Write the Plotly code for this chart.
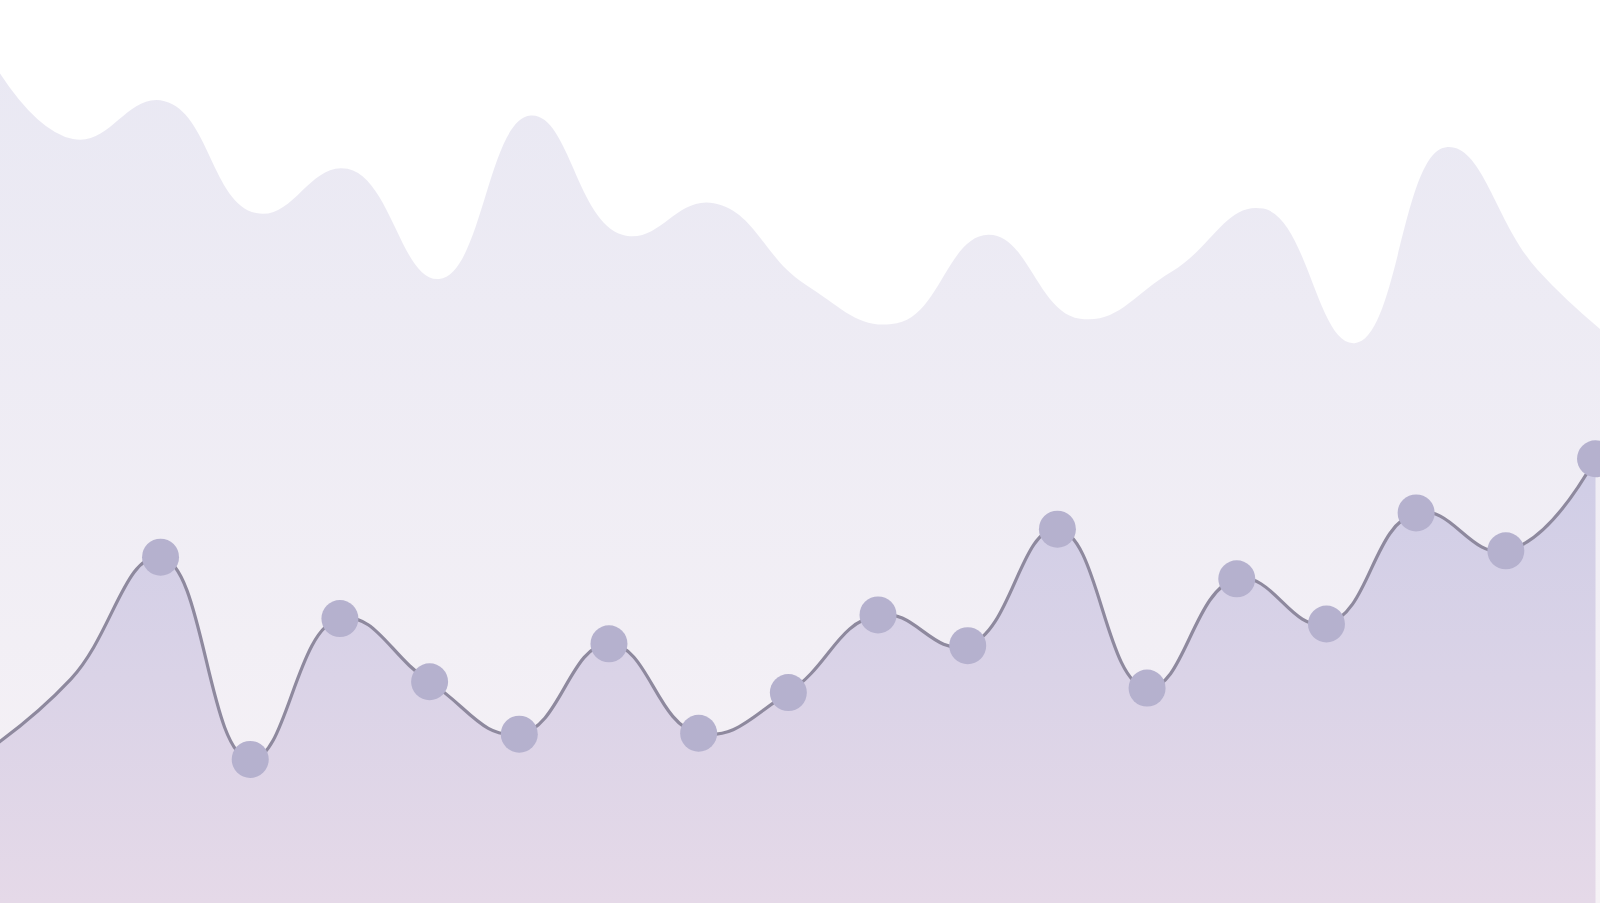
import plotly.graph_objects as go

# ── Data ──────────────────────────────────────────────────────────────────────
# front series (line + dots), 19 periods
periods = list(range(19))
front_values = [16.4, 24.8, 38.3, 15.9, 31.5, 24.5, 18.7, 28.7, 18.8, 23.3,
                31.9, 28.5, 41.4, 23.8, 35.9, 30.9, 43.2, 39.0, 49.2]

# back series (soft filled wave behind), 19 periods on its own x scale
back_periods = list(range(19))
back_values = [95.3, 84.6, 88.8, 76.4, 81.3, 69.1, 87.2, 74.0, 77.5, 68.5,
               64.2, 74.0, 64.7, 69.9, 76.9, 62.0, 83.7, 70.1, 61.0]

# ── Colours ───────────────────────────────────────────────────────────────────
C_BACK_TOP = "#e9e8f3"
C_BACK_BOT = "#f6f2f6"
C_FRONT_TOP = "#cfcde6"
C_FRONT_BOT = "#e5d9e8"
C_LINE = "#8e899e"
C_DOT = "#b5b1ce"

SMOOTH = 1.3

fig = go.Figure()

# back wave sits on the base x axis so the overlay (front) draws above it
fig.add_trace(go.Scatter(
    x=back_periods,
    y=back_values,
    mode="lines",
    line=dict(shape="spline", smoothing=SMOOTH, width=0, color=C_BACK_TOP),
    fill="tozeroy",
    fillgradient=dict(type="vertical", start=0, stop=95,
                      colorscale=[[0, C_BACK_BOT], [1, C_BACK_TOP]]),
    hoverinfo="skip",
))

# front area + line
fig.add_trace(go.Scatter(
    x=periods,
    y=front_values,
    mode="lines",
    line=dict(shape="spline", smoothing=SMOOTH, width=3.2, color=C_LINE),
    fill="tozeroy",
    fillgradient=dict(type="vertical", start=0, stop=50,
                      colorscale=[[0, C_FRONT_BOT], [1, C_FRONT_TOP]]),
    xaxis="x2",
    hoverinfo="skip",
))

# dots on top (the 2nd period has no dot in the original)
dot_sizes = [37] * len(periods)
dot_sizes[1] = 0

fig.add_trace(go.Scatter(
    x=periods,
    y=front_values,
    mode="markers",
    marker=dict(size=dot_sizes, color=C_DOT, opacity=1, line=dict(width=0)),
    xaxis="x2",
    hoverinfo="skip",
))

fig.update_layout(
    width=1600, height=903,
    paper_bgcolor="#ffffff",
    plot_bgcolor="#ffffff",
    margin=dict(l=0, r=0, t=0, b=0),
    showlegend=False,
    xaxis=dict(range=[0.203, 17.68], visible=False, fixedrange=True),
    xaxis2=dict(range=[0.21, 18.05], visible=False, overlaying="x",
                anchor="y", fixedrange=True),
    yaxis=dict(range=[0, 100], visible=False, fixedrange=True),
)

fig.write_html(
    "out.html",
    config={"displayModeBar": False},
    post_script="document.body.style.margin='0';",
)
